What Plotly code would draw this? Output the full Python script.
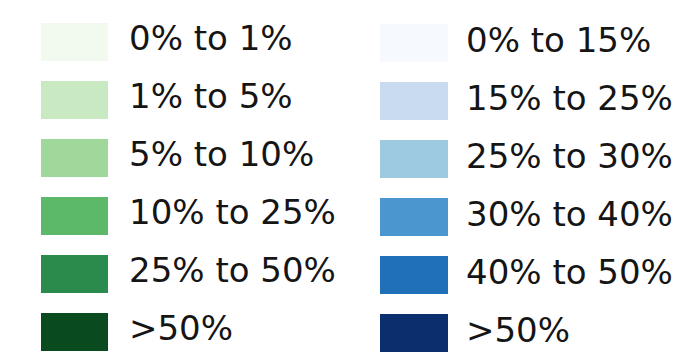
import plotly.graph_objects as go

green_labels = ["0% to 1%", "1% to 5%", "5% to 10%", "10% to 25%", "25% to 50%", ">50%"]
green_colors = ["#f2faef", "#c8e9c1", "#a0d89b", "#5db96a", "#2b8b4d", "#0a4a1f"]
blue_labels = ["0% to 15%", "15% to 25%", "25% to 30%", "30% to 40%", "40% to 50%", ">50%"]
blue_colors = ["#f6f9fe", "#c9dcef", "#9ecae1", "#4b96cf", "#2070b8", "#0b2f6c"]
rows = [0, 1, 2, 3, 4, 5]

fig = go.Figure()

def add_column(labels, colors, base, width, text_x, dy):
    ys = [r + dy for r in rows]
    fig.add_trace(go.Bar(
        y=ys, x=[width] * len(rows), base=[base] * len(rows), orientation="h",
        marker=dict(color=colors, line=dict(width=0)), width=0.655,
        hoverinfo="skip", showlegend=False))
    fig.add_trace(go.Scatter(
        y=ys, x=[text_x] * len(rows), mode="text", text=labels,
        textposition="middle right",
        textfont=dict(family="DejaVu Sans", size=34, color="#151515"),
        hoverinfo="skip", showlegend=False))

add_column(green_labels, green_colors, 41, 67, 129, 0.0)
add_column(blue_labels, blue_colors, 380, 68, 466, 0.03)

fig.update_layout(
    width=695, height=360,
    margin=dict(l=0, r=0, t=0, b=0),
    paper_bgcolor="white", plot_bgcolor="white",
    xaxis=dict(range=[8, 703], visible=False, fixedrange=True),
    yaxis=dict(range=[5.629, -0.5776], visible=False, fixedrange=True),
    bargap=0,
)
fig.write_html("out.html")
